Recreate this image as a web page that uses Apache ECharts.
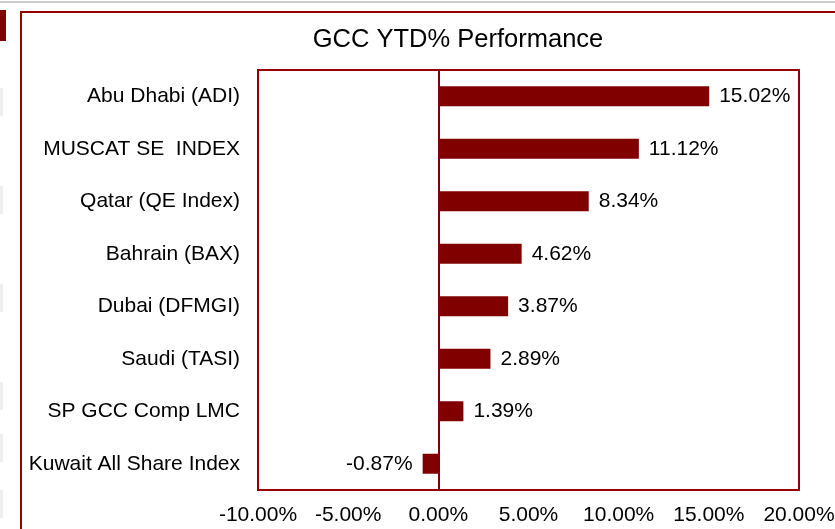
<!DOCTYPE html>
<html>
<head>
<meta charset="utf-8">
<script src="https://cdn.jsdelivr.net/npm/echarts@6/dist/echarts.min.js"></script>
<style>
html,body{margin:0;padding:0;background:#fff;}
#chart{width:835px;height:529px;}
</style>
</head>
<body>
<div id="chart"></div>
<script>
// categories listed bottom to top (category axis starts at bottom)
var categories = ['Kuwait All Share Index','SP GCC Comp LMC','Saudi (TASI)','Dubai (DFMGI)','Bahrain (BAX)','Qatar (QE Index)','MUSCAT SE  INDEX','Abu Dhabi (ADI)'];
var ytdValues = [-0.87, 1.39, 2.89, 3.87, 4.62, 8.34, 11.12, 15.02];
var axisMin = -10, axisMax = 20, axisStep = 5;

var chart = echarts.init(document.getElementById('chart'));
var option = {
    animation:false,
    textStyle:{fontFamily:'Liberation Sans, Arial, sans-serif'},
    title:{
        text:'GCC YTD% Performance',
        left:453,
        top:22,
        textAlign:'center',
        textStyle:{fontSize:25.5,fontWeight:'normal',color:'#000'}
    },
    grid:{left:258,right:36,top:70,bottom:39,containLabel:false,outerBoundsMode:'none',show:true,borderColor:'#990000',borderWidth:2},
    xAxis:{
        type:'value',
        min:axisMin,max:axisMax,interval:axisStep,
        axisLine:{show:false},
        axisTick:{show:false},
        splitLine:{show:false},
        axisLabel:{
            color:'#000',fontSize:21,margin:15,
            formatter:function(v){return v.toFixed(2)+'%';}
        }
    },
    yAxis:{
        type:'category',
        data:categories,
        axisLine:{show:true,onZero:true,lineStyle:{color:'#800000',width:2}},
        axisTick:{show:false},
        axisLabel:{color:'#000',fontSize:21,margin:18}
    },
    series:[{
        type:'bar',
        data:ytdValues.map(function(v){
            // negative values get their label on the left of the bar
            return v < 0 ? {value:v,label:{position:'left'}} : v;
        }),
        barWidth:20,
        itemStyle:{color:'#800000'},
        label:{
            show:true,
            fontSize:21,
            color:'#000',
            distance:10,
            position:'right',
            formatter:function(p){return p.value.toFixed(2)+'%';}
        }
    }],
    graphic:[
        {type:'rect',shape:{x:21,y:12,width:830,height:530},style:{fill:'none',stroke:'#990000',lineWidth:2},z:-1},
        {type:'line',shape:{x1:0,y1:2,x2:835,y2:2},style:{stroke:'#999',lineWidth:1}},
        {type:'rect',shape:{x:0,y:10,width:6,height:31},style:{fill:'#800000'}},
        {type:'rect',shape:{x:0,y:88,width:3,height:28},style:{fill:'#eee'}},
        {type:'rect',shape:{x:0,y:186,width:3,height:28},style:{fill:'#eee'}},
        {type:'rect',shape:{x:0,y:284,width:3,height:28},style:{fill:'#eee'}},
        {type:'rect',shape:{x:0,y:382,width:3,height:28},style:{fill:'#eee'}},
        {type:'rect',shape:{x:0,y:434,width:3,height:28},style:{fill:'#eee'}},
        {type:'rect',shape:{x:0,y:490,width:3,height:28},style:{fill:'#eee'}}
    ]
};
chart.setOption(option);
</script>
</body>
</html>
